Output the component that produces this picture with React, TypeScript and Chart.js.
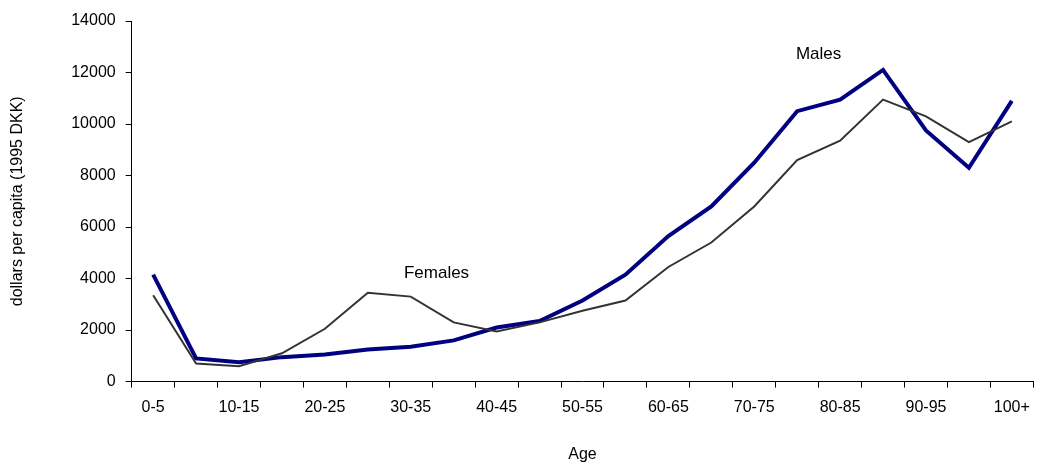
import { useEffect, useRef } from "react";
import Chart from "chart.js/auto";

const ages = [
  "0-5", "5-10", "10-15", "15-20", "20-25", "25-30", "30-35", "35-40", "40-45", "45-50",
  "50-55", "55-60", "60-65", "65-70", "70-75", "75-80", "80-85", "85-90", "90-95", "95-100", "100+",
];
const males = [
  4150, 900, 750, 950, 1050, 1250, 1350, 1600, 2100, 2350, 3150, 4150, 5650, 6800, 8500,
  10500, 10950, 12100, 9750, 8300, 10900,
];
const females = [
  3350, 700, 600, 1100, 2050, 3450, 3300, 2300, 1950, 2300, 2750, 3150, 4450, 5400, 6800,
  8600, 9350, 10950, 10300, 9300, 10100,
];
const yTicks = [0, 2000, 4000, 6000, 8000, 10000, 12000, 14000];
const notes = [
  { text: "Males", index: 15.5, value: 12700 },
  { text: "Females", index: 6.6, value: 4200 },
];

const FONT = "'Liberation Sans', Arial, sans-serif";

export default function App() {
  const ref = useRef<HTMLCanvasElement>(null);

  useEffect(() => {
    document.body.style.margin = "0";
    if (!ref.current) return;
    const labelPlugin = {
      id: "notes",
      afterDatasetsDraw(chart: any) {
        const { ctx, scales } = chart;
        ctx.save();
        ctx.font = `17px ${FONT}`;
        ctx.fillStyle = "#000";
        ctx.textAlign = "center";
        ctx.textBaseline = "middle";
        notes.forEach((n) => {
          const x = scales.x.getPixelForValue(n.index);
          const y = scales.y.getPixelForValue(n.value);
          ctx.fillText(n.text, x, y);
        });
        ctx.restore();
      },
    };
    const chart = new Chart(ref.current, {
      type: "line",
      data: {
        labels: ages,
        datasets: [
          {
            label: "Females",
            data: females,
            borderColor: "#333333",
            borderWidth: 2,
            pointRadius: 0,
            tension: 0,
          },
          {
            label: "Males",
            data: males,
            borderColor: "#000080",
            borderWidth: 4,
            pointRadius: 0,
            tension: 0,
          },
        ],
      },
      plugins: [labelPlugin],
      options: {
        animation: false,
        responsive: false,
        layout: { padding: { left: 4, right: 6, top: 21, bottom: 2 } },
        plugins: { legend: { display: false }, tooltip: { enabled: false } },
        scales: {
          x: {
            offset: true,
            grid: { display: true, drawOnChartArea: false, drawTicks: true, tickLength: 6, color: "#000", offset: true },
            border: { color: "#000", width: 1 },
            ticks: {
              autoSkip: false,
              maxRotation: 0,
              color: "#000",
              padding: 10,
              font: { family: FONT, size: 16 },
              callback: (_v: any, i: number) => (i % 2 === 0 ? ages[i] : ""),
            },
            title: { display: true, text: "Age", color: "#000", padding: { top: 18 }, font: { family: FONT, size: 16 } },
          },
          y: {
            min: 0,
            max: 14000,
            afterBuildTicks: (axis: any) => {
              axis.ticks = yTicks.map((v) => ({ value: v }));
            },
            grid: { display: true, drawOnChartArea: false, drawTicks: true, tickLength: 6, color: "#000" },
            border: { color: "#000", width: 1 },
            ticks: {
              color: "#000",
              padding: 10,
              font: { family: FONT, size: 16 },
              callback: (v: any) => String(v),
            },
            title: {
              display: true,
              text: "dollars per capita (1995 DKK)",
              color: "#000",
              padding: { bottom: 34 },
              font: { family: FONT, size: 16 },
            },
          },
        },
      },
    });
    return () => chart.destroy();
  }, []);

  return <canvas ref={ref} width={1040} height={470} />;
}
